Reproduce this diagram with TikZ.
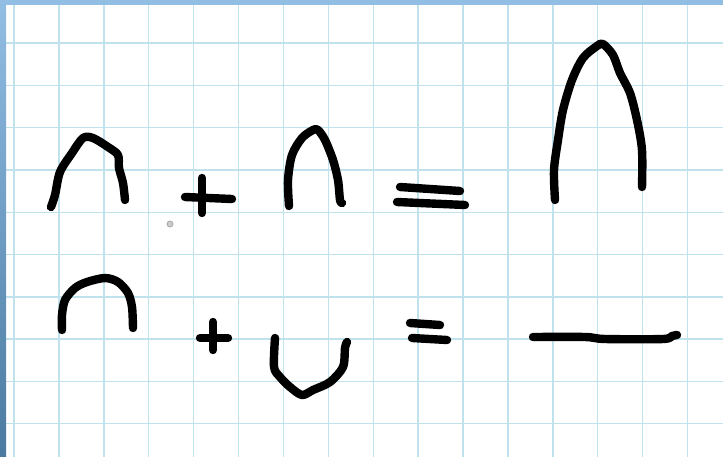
\documentclass[tikz,border=0pt]{standalone}
\usepackage{tikz}
\definecolor{gridblue}{RGB}{192,226,236}
\definecolor{barblue}{RGB}{146,190,228}
\definecolor{bardark}{RGB}{74,122,160}
\begin{document}
\begin{tikzpicture}[
  x=0.25mm, y=-0.25mm,
  ink/.style={draw=black, line width=2.1mm, line cap=round, line join=round},
  gridline/.style={draw=gridblue, line width=0.35mm},
]
\useasboundingbox (0,0) rectangle (723,457);
\fill[white] (0,0) rectangle (723,457);

%% Grid paper
\foreach \k in {0,...,15} {
  \draw[gridline] (14+44.9*\k,0) -- (14+44.9*\k,457);
}
\foreach \k in {0,...,9} {
  \draw[gridline] (0,43+42.3*\k) -- (723,43+42.3*\k);
}

%% Window edges
\fill[barblue] (0,0) rectangle (723,5);
\shade[top color=barblue, bottom color=bardark] (0,0) rectangle (6,457);

%% Row 1: cap + cap = tall cap
\draw[ink] plot[smooth, tension=0.5] coordinates {(51,207) (55,195) (60,172) (72,153) (83,138) (93,138) (108,147) (118,155) (119,168) (123,183) (125,200)};
\draw[ink] (185,197) -- (232,199);
\draw[ink] (202,178) -- (202,213);
\draw[ink] plot[smooth, tension=0.5] coordinates {(289,206) (288,180) (292,155) (302,138) (313,130) (318,130) (325,140) (333,160) (338,180) (340,200) (342,203)};
\draw[ink] (400,187) -- (460,191);
\draw[ink] (397,202) -- (465,205);
\draw[ink] plot[smooth, tension=0.5] coordinates {(555,200) (554,170) (558,140) (563,110) (572,80) (583,58) (597,46) (603,44) (613,55) (620,73) (630,93) (637,120) (642,150) (642,187)};

%% Row 2: cap + cup = flat line
\draw[ink] plot[smooth, tension=0.5] coordinates {(62,330) (62,315) (65,300) (75,288) (87,282) (105,278) (118,282) (128,293) (132,307) (133,328)};
\draw[ink] (200,338) -- (228,338);
\draw[ink] (213,322) -- (213,350);
\draw[ink] plot[smooth, tension=0.5] coordinates {(275,338) (274,367) (280,377) (290,387) (302,395) (313,390) (330,382) (343,367) (345,348) (347,342)};
\draw[ink] (410,323) -- (440,325);
\draw[ink] (412,338) -- (447,340);
\draw[ink] plot[smooth, tension=0.5] coordinates {(533,337) (585,337) (605,339) (663,339) (672,336) (677,335)};

%% Stray dot
\filldraw[fill=black!20, draw=black!35, line width=0.2mm] (170,224) circle (3);
\end{tikzpicture}
\end{document}
